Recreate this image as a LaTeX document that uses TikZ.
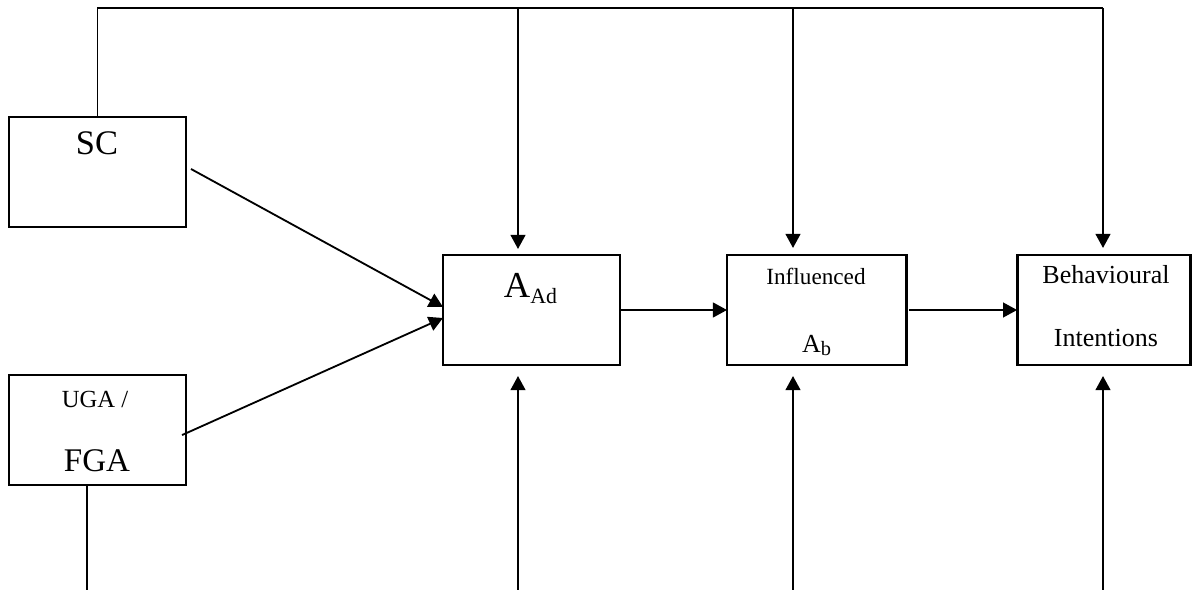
\documentclass[tikz,border=0pt]{standalone}
\usepackage{fontspec}
\setmainfont{Liberation Serif}
\usetikzlibrary{positioning,arrows.meta,calc}

\begin{document}
\begin{tikzpicture}[x=0.025cm,y=-0.025cm,
    box/.style={draw, rectangle, line width=2pt, inner sep=0pt, outer sep=0pt, minimum width=4.425cm, minimum height=2.75cm},
    link/.style={line width=1.3pt},
    arr/.style={link, -{Triangle[length=10pt,width=10.5pt]}},
    txt/.style={anchor=base, inner sep=0pt}]

    \useasboundingbox (0,0) rectangle (1192,590);

    % Boxes
    \node [box] (sc) at (97.5,172) {};
    \node [box, below=3.7cm of sc] (uga) {};
    \node [box] (aad) at (531.5,310) {};
    \node [box, minimum width=4.475cm, right=2.675cm of aad] (inf) {};
    \node [box, minimum width=4.325cm, right=2.775cm of inf] (beh) {};

    % Box texts
    \node [txt, font=\fontsize{24.5}{28}\selectfont] (sctxt) at (97,155) {SC};
    \node [txt, font=\fontsize{17.5}{20}\selectfont] (ugatxt) at (95,408) {UGA /};
    \node [txt, font=\fontsize{23.5}{27}\selectfont] (fgatxt) at (97,471) {FGA};
    \node [txt] (aadtxt) at (530.5,298) {{\fontsize{26}{30}\selectfont A}\raisebox{-4pt}{\fontsize{15.5}{18}\selectfont Ad}};
    \node [txt, font=\fontsize{16.5}{20}\selectfont] (inftxt) at (816,285) {Influenced};
    \node [txt] (abtxt) at (816.5,353) {{\fontsize{18.5}{22}\selectfont A}\raisebox{-2pt}{\fontsize{14.5}{17}\selectfont b}};
    \node [txt, font=\fontsize{18.5}{22}\selectfont] (behtxt) at (1106,284) {Behavioural};
    \node [txt, font=\fontsize{18.5}{22}\selectfont] (inttxt) at (1106,347) {Intentions};

    % Top and bottom line ends
    \coordinate (t1) at (518,8);
    \coordinate (t2) at (793,8);
    \coordinate (t3) at (1103,8);
    \coordinate (b0) at (87,590);
    \coordinate (b1) at (518,590);
    \coordinate (b2) at (793,590);
    \coordinate (b3) at (1103,590);

    % Line from SC over the top
    \draw [link] (sc.north) |- (t3);
    \draw [arr] (t1) -- ($(t1 |- aad.north)+(0,-6)$);
    \draw [arr] (t2) -- ($(t2 |- inf.north)+(0,-7)$);
    \draw [arr] (t3) -- ($(t3 |- beh.north)+(0,-7)$);

    % Lines from below
    \draw [link] (b0 |- uga.south) -- (b0);
    \draw [arr] (b1) -- ($(b1 |- aad.south)+(0,11)$);
    \draw [arr] (b2) -- ($(b2 |- inf.south)+(0,11)$);
    \draw [arr] (b3) -- ($(b3 |- beh.south)+(0,11)$);

    % Arrows between boxes
    \draw [arr] ($(sc.east)+(5,-3)$) -- ($(aad.west)+(0,-3)$);
    \draw [arr] ($(uga.east)+(-4,5)$) -- ($(aad.west)+(0,8)$);
    \draw [arr] (aad.east) -- (inf.west);
    \draw [arr] ($(inf.east)+(3,0)$) -- (beh.west);

\end{tikzpicture}
\end{document}
